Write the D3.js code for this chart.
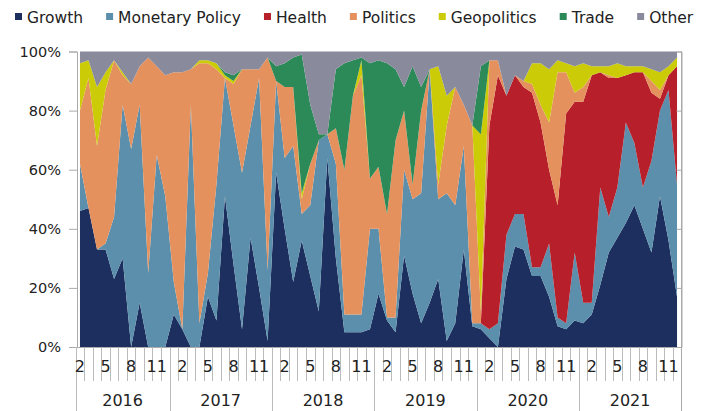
<!DOCTYPE html>
<html>
<head>
<meta charset="utf-8">
<script src="https://cdn.jsdelivr.net/npm/d3@7"></script>
<style>
  body { margin: 0; background: #fff; }
  svg text { font-family: "DejaVu Sans", sans-serif; fill: #222; }
</style>
</head>
<body>
<svg id="chart"></svg>
<script>
// monthly share of topics, Feb 2016 .. Dec 2021 (percent)
var years = ["2016", "2017", "2018", "2019", "2020", "2021"];
var firstMonth = 2;

var growth      = [46,47,33,33,23,30,0,15,0,0,0, 11,6,0,0,17,9,51,28,6,37,20,2, 59,40,22,36,24,12,64,30,5,5,5,6, 18,9,5,31,18,8,15,23,2,8,33,7, 6,3,0,23,34,33,24,24,17,7,6,9, 8,11,21,32,37,42,48,40,32,51,36,17];
var monetary    = [16,0,0,2,21,52,67,67,25,65,51, 11,0,82,8,8,46,40,47,53,38,71,24, 31,24,46,9,24,58,8,32,6,6,6,34, 22,1,5,29,32,44,79,27,50,40,35,1, 2,3,8,15,11,12,3,3,18,3,2,23, 7,4,33,12,17,34,21,14,31,29,51,38];
var health      = [0,0,0,0,0,0,0,0,0,0,0, 0,0,0,0,0,0,0,0,0,0,0,0, 0,0,0,0,0,0,0,0,0,0,0,0, 0,0,0,0,0,0,0,0,0,0,0,0, 0,69,84,47,47,43,59,49,25,38,71,51, 68,77,39,47,37,16,24,39,23,4,5,40];
var politics    = [18,44,35,52,53,10,22,13,73,30,41, 71,87,12,88,71,39,0,14,35,19,3,72, 0,24,20,5,14,0,0,12,49,74,81,17, 21,35,60,20,5,28,0,5,23,40,14,67, 4,22,5,0,0,2,3,6,16,45,14,3, 5,0,0,1,0,0,0,0,4,3,0,0];
var geopolitics = [16,6,20,6,0,1,0,0,0,0,0, 0,0,0,1,1,2,1,1,0,0,0,0, 0,0,0,2,0,0,0,0,0,0,5,0, 0,0,0,0,0,0,0,40,10,0,0,0, 60,0,0,0,0,0,7,14,18,4,3,9, 8,3,2,3,5,3,2,2,4,6,3,3];
var trade       = [0,0,0,0,0,0,0,0,0,0,0, 0,0,0,0,0,0,1,2,0,0,0,0, 5,8,10,47,20,2,0,20,36,12,1,39, 36,51,24,8,40,8,0,0,0,0,0,0, 23,0,0,0,0,0,0,0,0,0,0,0, 0,0,0,0,0,0,0,0,0,0,0,0];
var other       = [4,3,12,7,3,7,11,5,2,5,8, 7,7,6,3,3,4,7,8,6,6,6,2, 5,4,2,1,18,28,28,6,4,3,2,4, 3,4,6,12,5,12,6,5,15,12,18,25, 5,3,3,15,8,10,4,4,6,3,4,5, 4,5,5,5,4,5,5,5,6,7,5,2];

var seriesNames  = ["Growth", "Monetary Policy", "Health", "Politics", "Geopolitics", "Trade", "Other"];
var seriesColors = ["#1d2f5f", "#5b8fac", "#b71f2a", "#e5915e", "#cbcb08", "#2b8a58", "#898b9d"];
var yTicks = [0, 20, 40, 60, 80, 100];

var width = 708, height = 411;
var plotLeft = 75.7, plotRight = 681.3, plotTop = 51.5, plotBottom = 347;

// build month rows
var rows = [];
var allSeries = [growth, monetary, health, politics, geopolitics, trade, other];
var k = 0;
years.forEach(function (yr, yi) {
	var start = yi === 0 ? firstMonth : 1;
	for (var m = start; m <= 12; m++) {
		var row = { key: yr + "-" + m, year: yr, month: m };
		seriesNames.forEach(function (name, si) {
			row[name] = allSeries[si][k];
		});
		rows.push(row);
		k++;
	}
});

var svg = d3.select("#chart")
	.attr("width", width)
	.attr("height", height);

svg.append("rect").attr("width", width).attr("height", height).attr("fill", "#fff");

var x = d3.scaleBand()
	.domain(rows.map(function (d) { return d.key; }))
	.range([plotLeft, plotRight])
	.paddingInner(0).paddingOuter(0);

var y = d3.scaleLinear().domain([0, 100]).range([plotBottom, plotTop]);

var cx = function (d) { return x(d.data.key) + x.bandwidth() / 2; };

var stacked = d3.stack().keys(seriesNames)(rows);

var area = d3.area()
	.x(cx)
	.y0(function (d) { return y(d[0]); })
	.y1(function (d) { return y(d[1]); });

svg.append("g")
	.selectAll("path")
	.data(stacked)
	.enter().append("path")
	.attr("fill", function (d, i) { return seriesColors[i]; })
	.attr("d", area);

// left value axis
var yAxis = svg.append("g")
	.attr("transform", "translate(77,0)")
	.call(d3.axisLeft(y).tickValues(yTicks).tickSize(8).tickPadding(8)
		.tickFormat(function (d) { return d + "%"; }));
yAxis.select(".domain").attr("stroke", "#aaa");
yAxis.selectAll(".tick line").attr("stroke", "#aaa");
yAxis.selectAll(".tick text").style("font-size", "14.5px").attr("fill", "#222");

// right axis, ticks inward
var yRight = svg.append("g")
	.attr("transform", "translate(681.5,0)")
	.call(d3.axisLeft(y).tickValues(yTicks).tickSize(5).tickFormat(""));
yRight.select(".domain").attr("stroke", "#aaa");
yRight.selectAll(".tick line").attr("stroke", "#aaa");

// category axis
var cat = svg.append("g").attr("class", "cat");
cat.append("line")
	.attr("x1", 69).attr("x2", plotRight)
	.attr("y1", plotBottom + 0.5).attr("y2", plotBottom + 0.5)
	.attr("stroke", "#aaa");

cat.selectAll("line.mtick")
	.data(rows)
	.enter().append("line")
	.attr("class", "mtick")
	.attr("x1", function (d) { return Math.round(x(d.key)) + 0.5; })
	.attr("x2", function (d) { return Math.round(x(d.key)) + 0.5; })
	.attr("y1", plotBottom)
	.attr("y2", function (d) { return d.month === 1 || d.key === rows[0].key ? height : 381; })
	.attr("stroke", "#bbb");

cat.append("line")
	.attr("x1", plotRight + 0.2).attr("x2", plotRight + 0.2)
	.attr("y1", plotTop).attr("y2", height)
	.attr("stroke", "#aaa");

cat.selectAll("text.mlab")
	.data(rows.filter(function (d, i) { return i % 3 === 0; }))
	.enter().append("text")
	.attr("class", "mlab")
	.attr("x", function (d) { return x(d.key) + x.bandwidth() / 2; })
	.attr("y", 372)
	.attr("text-anchor", "middle")
	.style("font-size", "16px")
	.text(function (d) { return d.month; });

cat.selectAll("text.ylab")
	.data(years)
	.enter().append("text")
	.attr("class", "ylab")
	.attr("x", function (yr) {
		var ms = rows.filter(function (d) { return d.year === yr; });
		var a = x(ms[0].key), b = x(ms[ms.length - 1].key) + x.bandwidth();
		return (a + b) / 2;
	})
	.attr("y", 405.5)
	.attr("text-anchor", "middle")
	.style("font-size", "16px")
	.text(function (d) { return d; });

// legend
var legend = svg.append("g");
var lx = 15;
seriesNames.forEach(function (name, i) {
	var g = legend.append("g");
	g.append("rect")
		.attr("x", lx).attr("y", 13)
		.attr("width", 7).attr("height", 7)
		.attr("fill", seriesColors[i]);
	var t = g.append("text")
		.attr("x", lx + 12).attr("y", 23)
		.style("font-size", "15.5px")
		.text(name);
	lx += 12 + t.node().getComputedTextLength() + 23;
});
</script>
</body>
</html>
